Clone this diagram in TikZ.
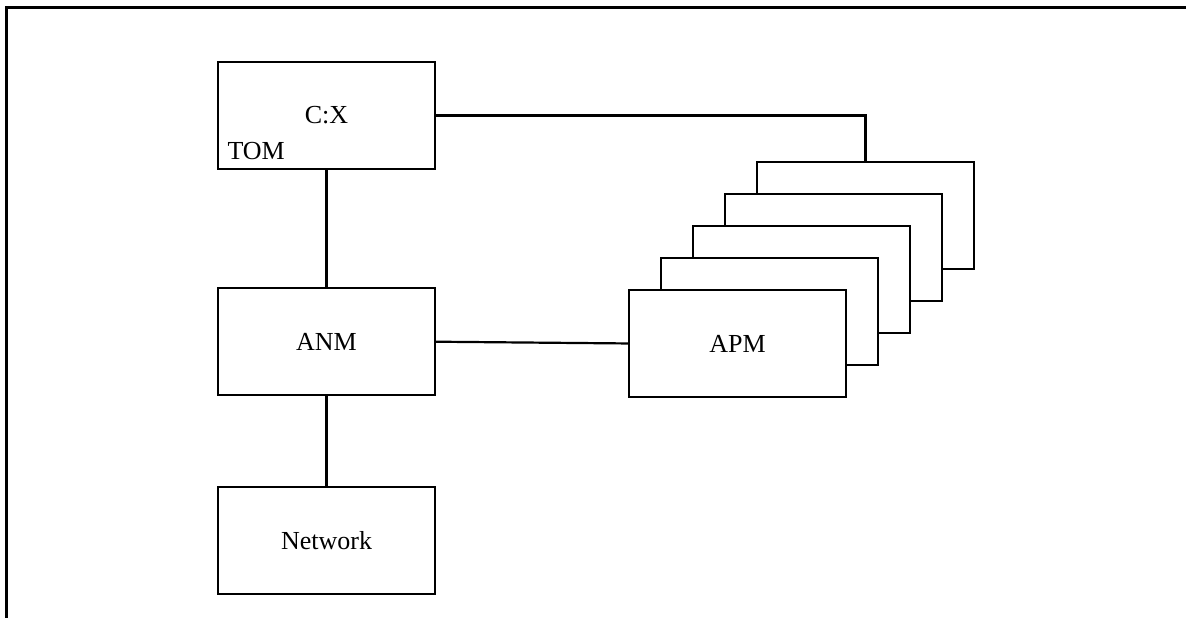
\documentclass[tikz,border=0pt]{standalone}
\usepackage{fontspec}
\setmainfont{Liberation Serif}
\usetikzlibrary{positioning}

\begin{document}
\begin{tikzpicture}[box/.style={draw, line width=1pt, fill=white, minimum width=3.81cm, minimum height=1.88cm, inner sep=0pt, font=\fontsize{13}{15}\selectfont}, wire/.style={line width=1.1pt}]
            \useasboundingbox (0,0) rectangle (20.842,10.86);
            \draw[line width=1.4pt] (0.118,0)--(0.118,10.732)--(20.842,10.732);
            \node[box] (cx) at (5.738,8.83) {C:X};
            \node[anchor=base west, inner sep=0pt, font=\fontsize{13}{15}\selectfont] (tom) at ([shift={(5pt,5pt)}]cx.south west) {TOM};
            \node[box, below=2.06cm of cx] (anm) {ANM};
            \node[box, below=1.58cm of anm] (net) {Network};
            % stack of APM boxes, back to front
            \foreach \i in {4,3,2,1}
                \node[box] (apm\i) at (12.96+0.5623*\i,4.824+0.5623*\i) {};
            \node[box] (apm) at (12.96,4.824) {APM};
            \draw[wire] (cx.east) -| (apm4.north);
            \draw[wire] (cx.south)--(anm.north);
            \draw[wire] (anm.south)--(net.north);
            \draw[wire] (anm.east)--(apm.west);
        \end{tikzpicture}
\end{document}
